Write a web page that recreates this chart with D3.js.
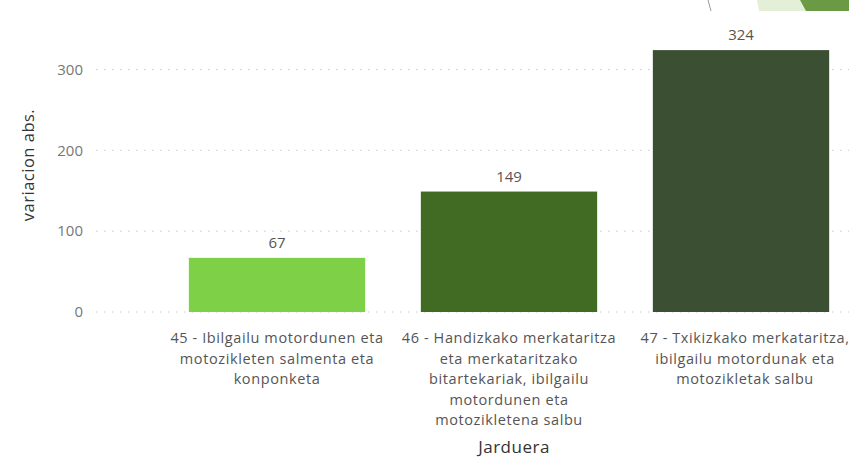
<!DOCTYPE html>
<html><head><meta charset="utf-8">
<script src="https://cdn.jsdelivr.net/npm/d3@7"></script>
<style>
body{margin:0;background:#fff;}
svg{display:block;font-family:"Segoe UI","Open Sans",sans-serif;}
</style></head>
<body>
<svg id="c" width="849" height="458"></svg>
<script>
const categories = [
  "45 - Ibilgailu motordunen eta motozikleten salmenta eta konponketa",
  "46 - Handizkako merkataritza eta merkataritzako bitartekariak, ibilgailu motordunen eta motozikletena salbu",
  "47 - Txikizkako merkataritza, ibilgailu motordunak eta motozikletak salbu"
];
const values = [67, 149, 324];
const barColors = ["#7ed147", "#416b22", "#3b4f33"];
const yTicks = [0, 100, 200, 300];
const yTitle = "variacion abs.";
const xTitle = "Jarduera";

const svg = d3.select("#c");

// decorative slide corner
svg.append("polygon").attr("points","757,0 800,0 806,11 759,11").attr("fill","#e3efd6");
svg.append("polygon").attr("points","800,0 849,0 849,11 806,11").attr("fill","#6b9a45");
svg.append("line").attr("x1",708).attr("y1",0).attr("x2",711).attr("y2",11).attr("stroke","#999").attr("stroke-width",1);

const y = d3.scaleLinear().domain([0, 300]).range([312, 69.5]);
const x = d3.scaleBand().domain(categories).range([161, 857]).paddingInner(0.24).paddingOuter(0.12);

// grid
svg.append("g").selectAll("line").data(yTicks).join("line")
  .attr("x1", 96).attr("x2", 849)
  .attr("y1", d => y(d)).attr("y2", d => y(d))
  .attr("stroke", "#c8c8c8").attr("stroke-width", 1)
  .attr("stroke-dasharray", "1.5,6.5");

// y axis labels
const yAxis = d3.axisLeft(y).tickValues(yTicks).tickSize(0).tickPadding(0);
const ya = svg.append("g").attr("transform", "translate(83,0)").call(yAxis);
ya.select(".domain").remove();
ya.selectAll("text").attr("fill", "#777").attr("font-size", "15px")
  .attr("font-family", "'Segoe UI','Open Sans',sans-serif");

// y title
svg.append("text").attr("transform", "translate(34,165) rotate(-90)")
  .attr("text-anchor", "middle").attr("fill", "#333").attr("font-size", "16.5px")
  .attr("letter-spacing", "0.5px")
  .text(yTitle);

// bars
svg.append("g").selectAll("rect").data(values).join("rect")
  .attr("x", (d, i) => x(categories[i]))
  .attr("width", x.bandwidth())
  .attr("y", d => y(d))
  .attr("height", d => y(0) - y(d))
  .attr("fill", (d, i) => barColors[i]);

// data labels
svg.append("g").selectAll("text").data(values).join("text")
  .attr("x", (d, i) => x(categories[i]) + x.bandwidth() / 2)
  .attr("y", d => y(d) - 10)
  .attr("text-anchor", "middle").attr("fill", "#555").attr("font-size", "15px")
  .text(d => d);

// x axis labels with wrapping
const maxW = 224;
const lblSize = "14.5px", lblSpacing = "0.6px";
const xl = svg.append("g");
categories.forEach((c, i) => {
  const t = xl.append("text").attr("text-anchor", "middle").attr("fill", "#555")
    .attr("font-size", lblSize).attr("letter-spacing", lblSpacing);
  const cx = x(c) + x.bandwidth() / 2;
  const words = c.split(" ");
  let lines = [], cur = [];
  const probe = svg.append("text").attr("font-size", lblSize).attr("letter-spacing", lblSpacing);
  words.forEach(w => {
    const test = cur.concat([w]).join(" ");
    probe.text(test);
    if (probe.node().getComputedTextLength() > maxW && cur.length) {
      lines.push(cur.join(" "));
      cur = [w];
    } else cur.push(w);
  });
  if (cur.length) lines.push(cur.join(" "));
  probe.remove();
  lines.forEach((l, j) => {
    t.append("tspan").attr("x", Math.min(cx + (i === 2 ? 4 : 0), 849 - 104)).attr("y", 343 + j * 20.5).text(l);
  });
});

// x title
svg.append("text").attr("x", 514).attr("y", 453).attr("text-anchor", "middle")
  .attr("fill", "#333").attr("font-size", "17px").attr("letter-spacing", "0.5px").text(xTitle);
</script>
</body></html>
